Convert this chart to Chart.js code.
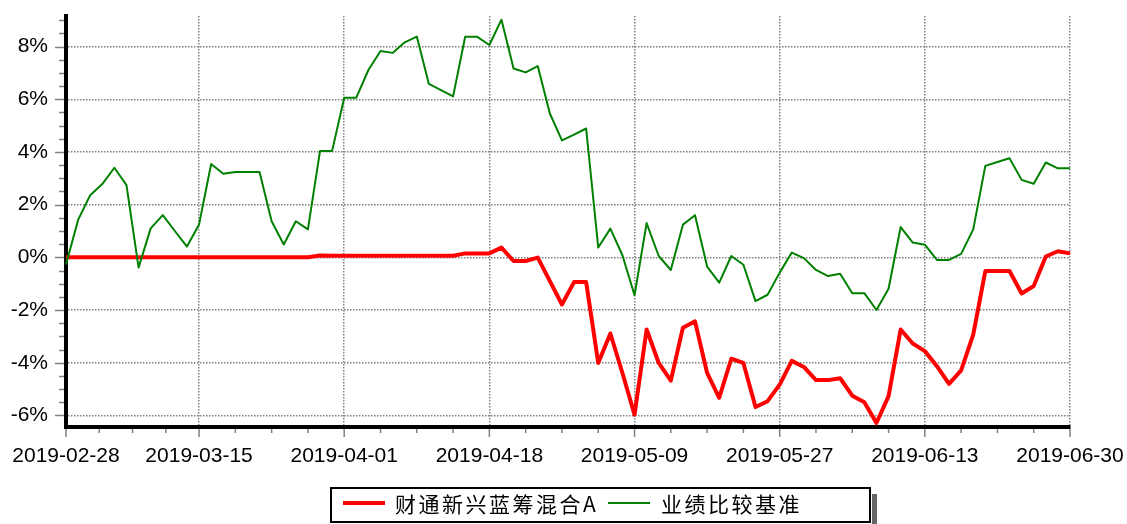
<!DOCTYPE html>
<html>
<head>
<meta charset="utf-8">
<script src="https://cdn.jsdelivr.net/npm/chart.js@4.4.1/dist/chart.umd.min.js"></script>
<style>
  html, body { margin: 0; padding: 0; background: #fff; }
  #wrap { width: 1127px; height: 524px; }
</style>
</head>
<body>
<div id="wrap"><canvas id="chart" width="1127" height="524"></canvas></div>
<script>
// trading dates (plus the quarter-end dates 03-31 and 06-30)
const dates = [
  '2019-02-28', '2019-03-01', '2019-03-04', '2019-03-05', '2019-03-06', '2019-03-07', '2019-03-08',
  '2019-03-11', '2019-03-12', '2019-03-13', '2019-03-14', '2019-03-15', '2019-03-18', '2019-03-19',
  '2019-03-20', '2019-03-21', '2019-03-22', '2019-03-25', '2019-03-26', '2019-03-27', '2019-03-28',
  '2019-03-29', '2019-03-31', '2019-04-01', '2019-04-02', '2019-04-03', '2019-04-04', '2019-04-08',
  '2019-04-09', '2019-04-10', '2019-04-11', '2019-04-12', '2019-04-15', '2019-04-16', '2019-04-17',
  '2019-04-18', '2019-04-19', '2019-04-22', '2019-04-23', '2019-04-24', '2019-04-25', '2019-04-26',
  '2019-04-29', '2019-04-30', '2019-05-06', '2019-05-07', '2019-05-08', '2019-05-09', '2019-05-10',
  '2019-05-13', '2019-05-14', '2019-05-15', '2019-05-16', '2019-05-17', '2019-05-20', '2019-05-21',
  '2019-05-22', '2019-05-23', '2019-05-24', '2019-05-27', '2019-05-28', '2019-05-29', '2019-05-30',
  '2019-05-31', '2019-06-03', '2019-06-04', '2019-06-05', '2019-06-06', '2019-06-10', '2019-06-11',
  '2019-06-12', '2019-06-13', '2019-06-14', '2019-06-17', '2019-06-18', '2019-06-19', '2019-06-20',
  '2019-06-21', '2019-06-24', '2019-06-25', '2019-06-26', '2019-06-27', '2019-06-28', '2019-06-30'
];

// dates that get a label on the x axis
const tickDates = ['2019-02-28', '2019-03-15', '2019-04-01', '2019-04-18',
                   '2019-05-09', '2019-05-27', '2019-06-13', '2019-06-30'];

// 财通新兴蓝筹混合A, cumulative return in %
const fundReturn = [
  0, 0, 0, 0, 0, 0, 0, 0, 0, 0, 0, 0, 0, 0, 0, 0, 0, 0, 0, 0, 0,
  0.07, 0.06, 0.06, 0.06, 0.06, 0.06, 0.06, 0.06, 0.06, 0.06, 0.06, 0.06,
  0.15, 0.15, 0.15, 0.37, -0.14, -0.14, -0.01, -0.9, -1.79, -0.94, -0.94,
  -4.01, -2.89, -4.39, -5.97, -2.74, -4.01, -4.68, -2.67, -2.43, -4.39, -5.33,
  -3.85, -4.01, -5.68, -5.46, -4.83, -3.93, -4.16, -4.66, -4.66, -4.59, -5.25,
  -5.50, -6.29, -5.27, -2.74, -3.27, -3.56, -4.13, -4.80, -4.29, -2.93,
  -0.52, -0.52, -0.52, -1.37, -1.09, 0.03, 0.23, 0.15
];

// 业绩比较基准, cumulative return in %
const benchReturn = [
  -0.27, 1.42, 2.36, 2.78, 3.40, 2.74, -0.39, 1.10, 1.60, 1.00, 0.41, 1.25,
  3.54, 3.17, 3.24, 3.24, 3.24, 1.37, 0.49, 1.37, 1.06, 4.04, 4.04, 6.06,
  6.06, 7.11, 7.83, 7.76, 8.16, 8.38, 6.58, 6.35, 6.11, 8.37, 8.37, 8.06,
  9.02, 7.17, 7.02, 7.26, 5.46, 4.44, 4.66, 4.89, 0.37, 1.09, 0.08, -1.44,
  1.30, 0.05, -0.48, 1.24, 1.60, -0.35, -0.96, 0.05, -0.28, -1.66, -1.42,
  -0.58, 0.18, -0.03, -0.48, -0.71, -0.62, -1.36, -1.36, -2.00, -1.19,
  1.15, 0.56, 0.48, -0.10, -0.10, 0.13, 1.06, 3.47, 3.62, 3.76, 2.94,
  2.79, 3.60, 3.38, 3.38
];

const seriesNames = ['财通新兴蓝筹混合A', '业绩比较基准'];
const seriesColors = ['#ff0000', '#008000'];

const axisFont = { family: '"Liberation Sans", Arial, sans-serif', size: 21 };
const legendFont = '21px "Noto Sans CJK SC", sans-serif';

// minor tick marks on both axes, plus the boxed legend under the chart
const decorPlugin = {
  id: 'decor',
  afterDraw(chart) {
    const ctx = chart.ctx;
    const area = chart.chartArea;
    const xs = chart.scales.x;
    const ys = chart.scales.y;
    ctx.save();
    ctx.strokeStyle = '#808080';
    ctx.lineWidth = 1.5;

    // y axis: major every 2%, minor every 0.5%
    for (let v = -6; v <= 9; v += 0.5) {
      if (v < ys.min || v > ys.max) continue;
      const y = Math.round(ys.getPixelForValue(v)) + 0.5;
      const len = (v % 2 === 0) ? 9 : 5;
      ctx.beginPath();
      ctx.moveTo(area.left - 2 - len, y);
      ctx.lineTo(area.left - 2, y);
      ctx.stroke();
    }

    // x axis: major at labelled dates, 3 minor ticks between them
    const px = xs.ticks.map((t, i) => xs.getPixelForTick(i));
    for (let i = 0; i < px.length; i++) {
      ctx.beginPath();
      ctx.moveTo(px[i], area.bottom + 2);
      ctx.lineTo(px[i], area.bottom + 10);
      ctx.stroke();
      if (i < px.length - 1) {
        for (let k = 1; k < 4; k++) {
          const x = px[i] + (px[i + 1] - px[i]) * k / 4;
          ctx.beginPath();
          ctx.moveTo(x, area.bottom + 2);
          ctx.lineTo(x, area.bottom + 6);
          ctx.stroke();
        }
      }
    }

    // legend box
    const box = { left: 331, top: 488, right: 870, bottom: 522 };
    ctx.fillStyle = '#666';
    ctx.fillRect(box.right + 2, box.top + 6, 5, 524 - box.top - 6);
    ctx.strokeStyle = '#000';
    ctx.lineWidth = 2;
    ctx.strokeRect(box.left, box.top, box.right - box.left, box.bottom - box.top);

    ctx.font = legendFont;
    ctx.letterSpacing = '2.5px';
    ctx.textBaseline = 'middle';
    ctx.textAlign = 'left';
    const cy = 503;
    const starts = [
      { line: 343, text: 395 },
      { line: 608, text: 661 }
    ];
    chart.data.datasets.forEach((ds, i) => {
      ctx.strokeStyle = ds.borderColor;
      ctx.lineWidth = ds.borderWidth;
      ctx.beginPath();
      ctx.moveTo(starts[i].line, cy);
      ctx.lineTo(starts[i].line + 42, cy);
      ctx.stroke();
      ctx.fillStyle = '#000';
      ctx.fillText(ds.label, starts[i].text, cy + 1);
    });
    ctx.restore();
  }
};

new Chart(document.getElementById('chart'), {
  type: 'line',
  data: {
    labels: dates,
    datasets: [
      {
        label: seriesNames[0],
        data: fundReturn,
        borderColor: seriesColors[0],
        borderWidth: 4,
        order: 1
      },
      {
        label: seriesNames[1],
        data: benchReturn,
        borderColor: seriesColors[1],
        borderWidth: 2,
        order: 0
      }
    ]
  },
  options: {
    responsive: false,
    animation: false,
    devicePixelRatio: 1,
    layout: { padding: { left: 0, right: 57, top: 16, bottom: 60 } },
    elements: {
      point: { radius: 0 },
      line: { tension: 0, borderJoinStyle: 'round', fill: false }
    },
    plugins: {
      legend: { display: false },
      tooltip: { enabled: false }
    },
    scales: {
      x: {
        // invisible tick marks give the label offset without extra side padding
        grid: { color: '#808080', lineWidth: 1.5, drawTicks: true, tickLength: 17, tickColor: 'rgba(0,0,0,0)' },
        border: { display: true, color: '#000', width: 4, dash: [1.5, 1.5] },
        ticks: {
          autoSkip: false,
          maxRotation: 0,
          padding: 0,
          color: '#000',
          font: axisFont
        },
        afterBuildTicks(axis) {
          axis.ticks = axis.ticks.filter(t => tickDates.includes(dates[t.value]));
        },
        afterFit(axis) { axis.height = 37; }
      },
      y: {
        min: -6.44,
        max: 9.16,
        grid: { color: '#808080', lineWidth: 1.5, drawTicks: true, tickLength: 18, tickColor: 'rgba(0,0,0,0)' },
        border: { display: true, color: '#000', width: 4, dash: [1.5, 1.5] },
        ticks: {
          stepSize: 2,
          includeBounds: false,
          padding: 0,
          color: '#000',
          font: axisFont,
          callback: v => v + '%'
        },
        afterFit(axis) { axis.width = 66; }
      }
    }
  },
  plugins: [decorPlugin]
});
</script>
</body>
</html>
